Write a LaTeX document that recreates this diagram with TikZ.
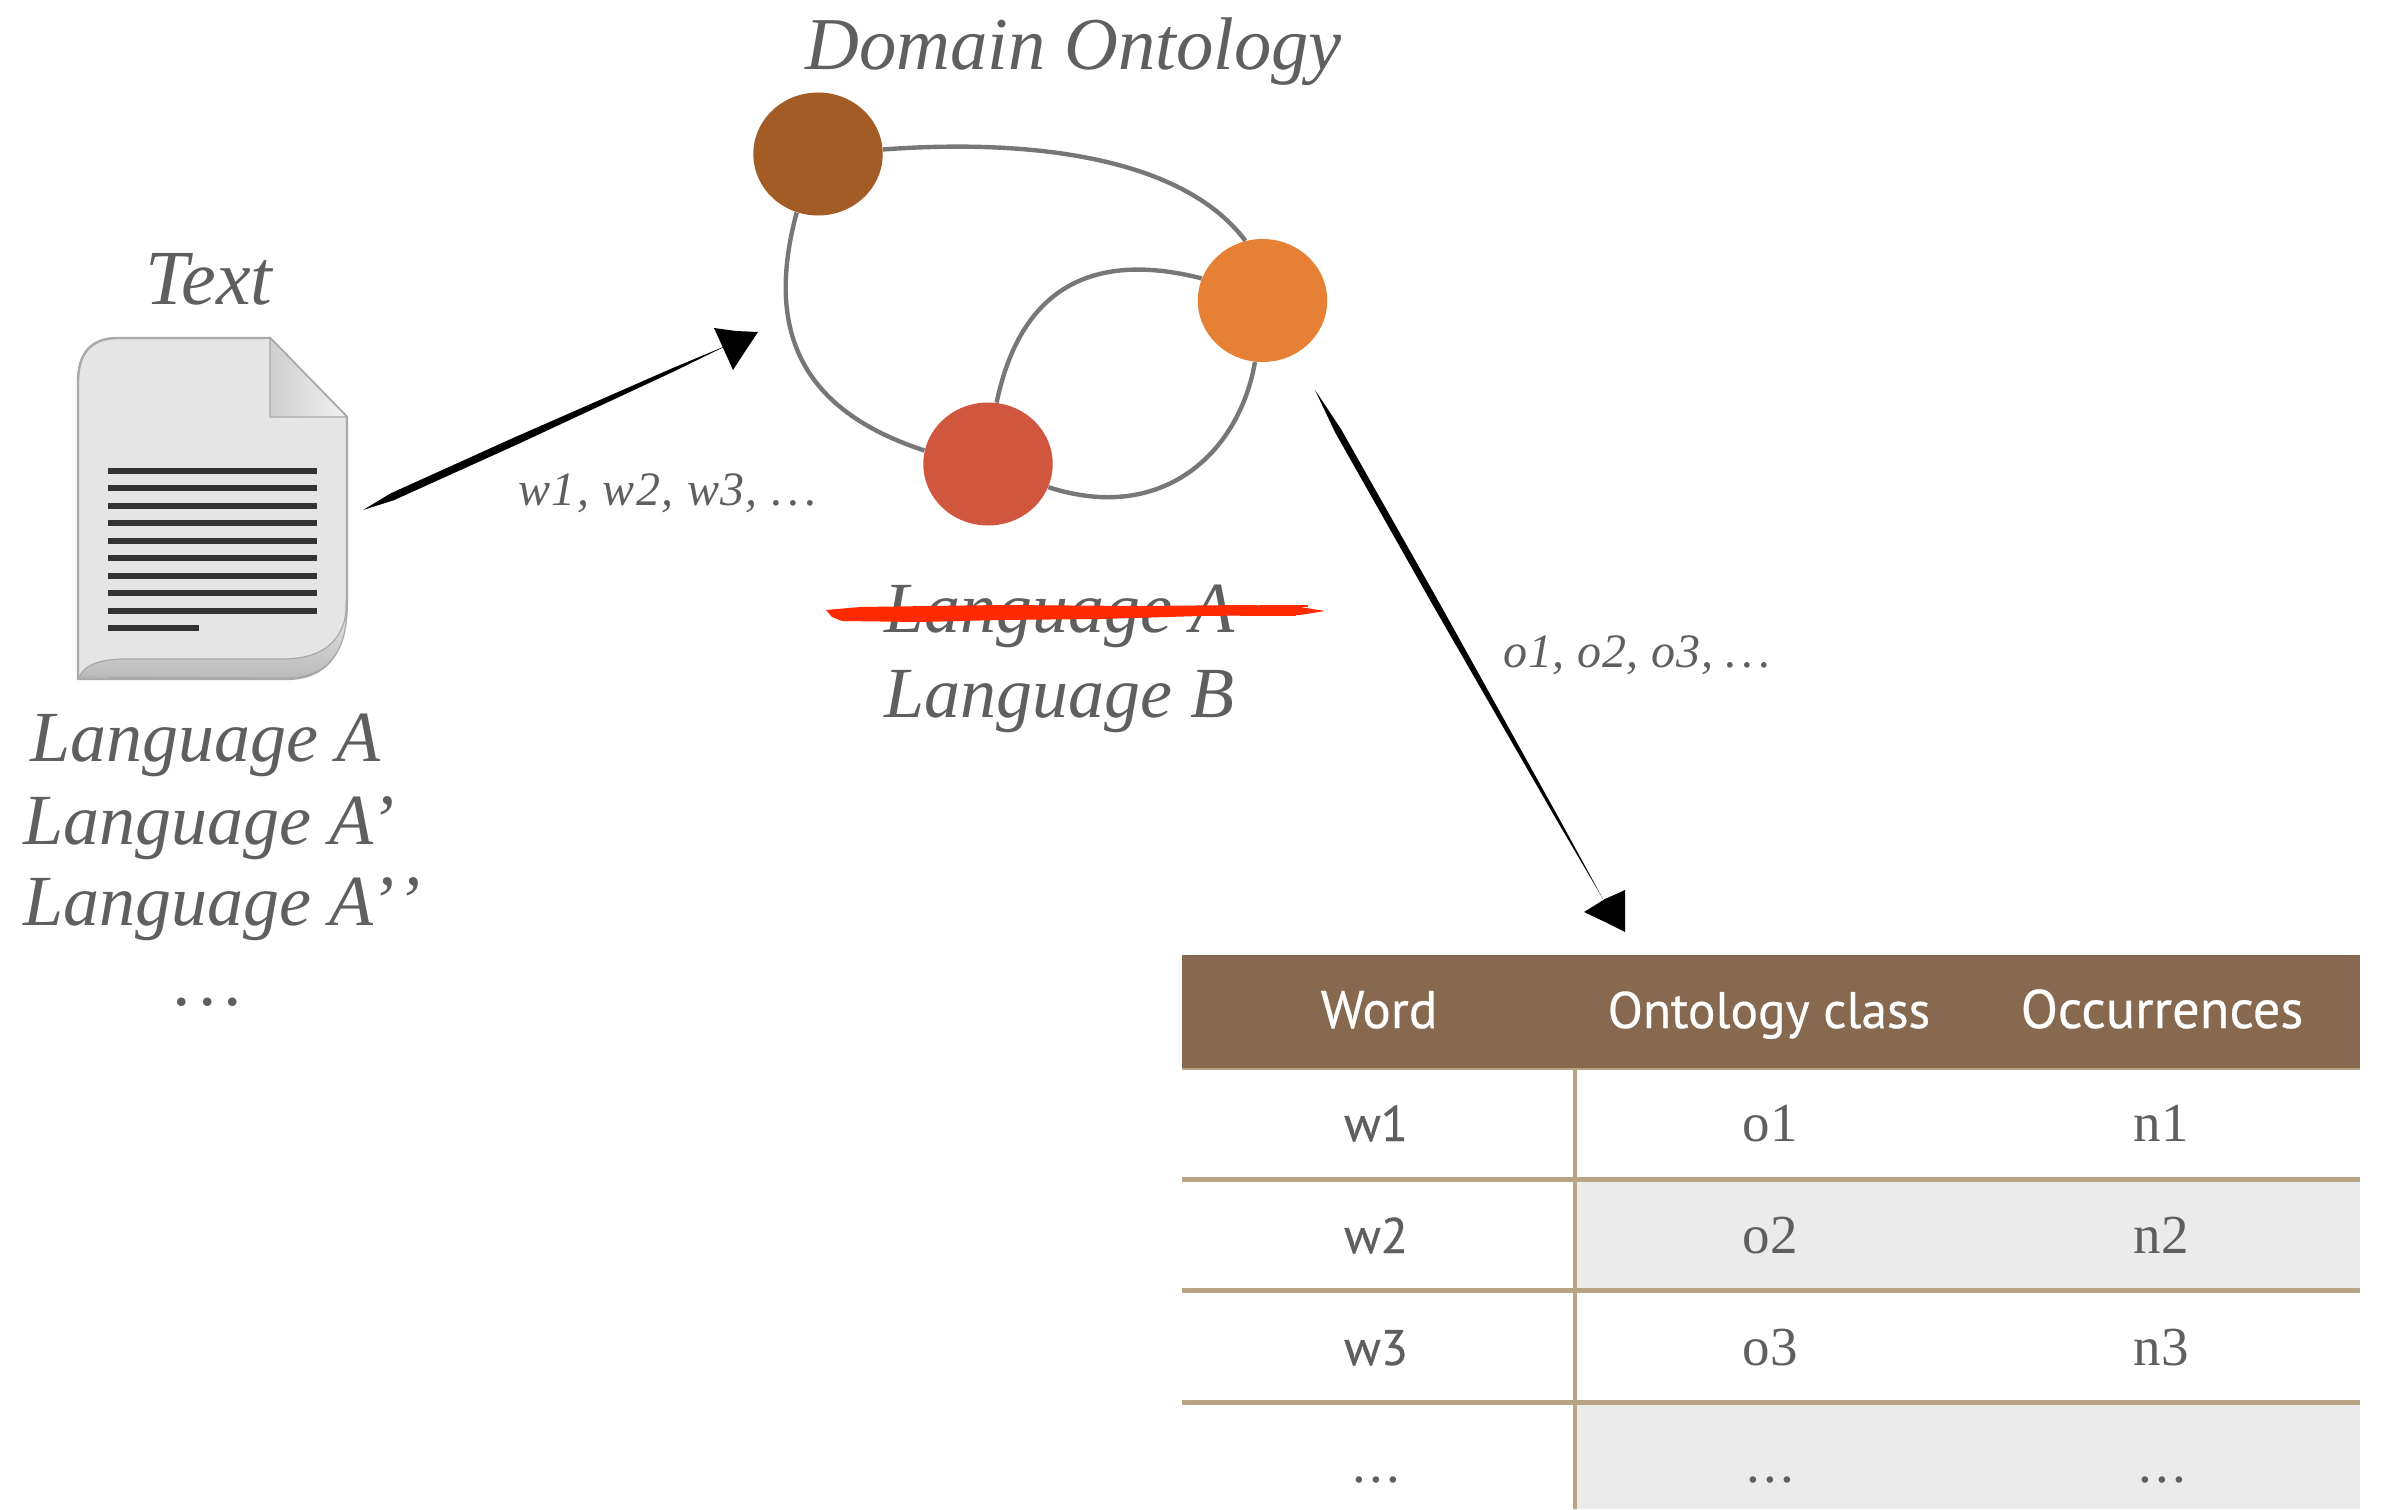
\documentclass[tikz,border=0pt]{standalone}
\usepackage{fontspec}
\setmainfont{Liberation Serif}
\newfontfamily\tabsans{PT Sans}
\newfontfamily\tabsansb[FakeBold=0.5]{PT Sans}
\usetikzlibrary{shapes.geometric,calc}
\definecolor{txtgray}{HTML}{5F5F5F}
\definecolor{edgegray}{HTML}{767878}
\definecolor{hdrbrown}{HTML}{86694F}
\definecolor{rulebrown}{HTML}{B8A384}
\definecolor{rowgray}{HTML}{EBEBEB}
\definecolor{nodeA}{HTML}{A35C26}
\definecolor{nodeB}{HTML}{E58035}
\definecolor{nodeC}{HTML}{D0573E}
\definecolor{strike}{HTML}{FF2A00}
\definecolor{docfill}{HTML}{E5E5E6}
\definecolor{docline}{HTML}{A9A9A9}
\definecolor{docbar}{HTML}{333333}
\newcommand\fs[1]{\fontsize{#1}{#1}\selectfont}
\newcommand\taper[5]{%
  \fill[black] (#1) -- ($(#1)!.08!(#2)!#3pt!90:(#2)$) -- ($(#1)!.42!(#2)!#4pt!90:(#2)$) -- ($(#1)!.85!(#2)!#5pt!90:(#2)$) -- (#2)
    -- ($(#1)!.85!(#2)!#5pt!-90:(#2)$) -- ($(#1)!.42!(#2)!#4pt!-90:(#2)$) -- ($(#1)!.08!(#2)!#3pt!-90:(#2)$) -- cycle;}
\tikzset{
  x=0.5pt,y=-0.5pt,
  biglabel/.style={text=txtgray,inner sep=0pt,anchor=base west,font=\itshape\fs{36}},
  smalllabel/.style={text=txtgray,inner sep=0pt,anchor=base west,font=\itshape\fs{24}},
  ontonode/.style={ellipse,minimum width=64.7pt,minimum height=61.5pt,inner sep=0pt,draw=none},
  ontoedge/.style={draw=edgegray,line width=2.2pt},
  hdrcell/.style={text=white,inner sep=0pt,anchor=base},
  wcell/.style={text=txtgray,inner sep=0pt,anchor=base,font=\tabsansb\fs{25}},
  vcell/.style={text=txtgray,inner sep=0pt,anchor=base,font=\fs{27.5}},
  tabrule/.style={draw=rulebrown,line width=2.5pt},
  tabvrule/.style={draw=rulebrown,line width=2pt},
  docbarline/.style={draw=docbar,line width=3pt},
  sketchhead/.style={fill=black,draw=none},
  strikestreak/.style={draw=strike,line width=.7pt},
}
\begin{document}
\begin{tikzpicture}
\useasboundingbox (0,0) rectangle (2381,1509);
% ---- document icon
\fill[docfill,draw=docline,line width=1.2pt] (78,382) .. controls (78,352) and (92,338) .. (118,338) -- (270,338) -- (347,417) -- (347,595) .. controls (347,650) and (330,679) .. (285,679) -- (78,679) -- cycle;
\shade[top color=docfill,bottom color=black!27,draw=docline,line width=.6pt] (79,677) .. controls (84,668) and (92,660) .. (122,659) -- (285,659) .. controls (325,658) and (342,640) .. (347,610) .. controls (346,650) and (330,678) .. (285,678) -- cycle;
\shade[left color=black!19,right color=black!5,draw=docline,line width=.6pt] (270,338) -- (347,417) -- (270,417) -- cycle;
\foreach \yy in {0,...,8} \draw[docbarline] (108,{471+17.45*\yy}) -- (317,{471+17.45*\yy});
\draw[docbarline] (108,628) -- (199,628);
% ---- labels left
\node[biglabel,font=\itshape\fs{39}] (textlabel) at (145,304) {Text};
\node[biglabel] (langa) at (30,761) {Language A};
\node[biglabel] (langap) at (23,844) {Language A’};
\node[biglabel] (langapp) at (23,925) {Language A’\hspace{.02em}’};
\node[biglabel,anchor=base] (langdots) at (209,1005) {.\hspace{.1em}.\hspace{.1em}.};
% ---- ontology
\node[biglabel,font=\itshape\fs{37.3}] (domain) at (805,70) {Domain Ontology};
\node[ontonode,fill=nodeA] (na) at (818,154) {};
\node[ontonode,fill=nodeB] (nb) at (1262.5,300.5) {};
\node[ontonode,fill=nodeC] (nc) at (988,464) {};
\draw[ontoedge] (na.4) .. controls (1040,138) and (1185,160) .. (nb.106);
\draw[ontoedge] (na.250) .. controls (765,330) and (800,410) .. (nc.168);
\draw[ontoedge] (nc.82) .. controls (1020,290) and (1090,250) .. (nb.160);
\draw[ontoedge] (nb.263) .. controls (1240,450) and (1165,525) .. (nc.-21);
\node[biglabel] (langas) at (884,632) {Language A};
\node[biglabel] (langb) at (884,717) {Language B};
\fill[strike] (826,610) -- (860,607) -- (1000,605) -- (1140,606) -- (1250,605) -- (1300,607) -- (1325,611) -- (1300,615) -- (1200,616) -- (1100,619) -- (1000,620) -- (920,622) -- (842,621) -- (832,617) -- cycle;
\draw[strikestreak] (1260,606) -- (1308,606);
\draw[strikestreak] (1240,615) -- (1296,615);
% ---- sketched arrows
\coordinate (a1s) at (363,510);
\coordinate (a1e) at (728,345);
\coordinate (a1p) at (714,328);
\coordinate (a1q) at (758,332);
\coordinate (a1r) at (733,370);
\taper{a1s}{a1e}{1.9}{1.9}{.9}
\fill[sketchhead] (a1p) -- (736,331) -- (a1q) -- (746,350) -- (a1r) -- (724,350) -- cycle;
\coordinate (a2s) at (1315,390);
\coordinate (a2e) at (1603,899);
\coordinate (a2p) at (1625,890);
\coordinate (a2q) at (1584,912);
\coordinate (a2r) at (1625,932);
\taper{a2s}{a2e}{1.7}{1.7}{.7}
\fill[sketchhead] (a2p) -- (1605,899) -- (a2q) -- (1603,921) -- (a2r) -- (1625,910) -- cycle;
\node[smalllabel,font=\itshape\fs{24}\addfontfeature{LetterSpace=3}] (wlabel) at (518,505) {w1, w2, w3, .\hspace{.1em}.\hspace{.1em}.};
\node[smalllabel,font=\itshape\fs{24}\addfontfeature{LetterSpace=1.5}] (olabel) at (1503,667) {o1, o2, o3, .\hspace{.1em}.\hspace{.1em}.};
% ---- table
\fill[rowgray] (1575,1179) rectangle (2360,1290.5);
\fill[rowgray] (1575,1402) rectangle (2360,1509);
\fill[hdrbrown] (1182,955) rectangle (2360,1068);
\draw[tabrule,line width=1pt] (1182,1068.5) -- (2360,1068.5);
\draw[tabvrule] (1575,1068) -- (1575,1509);
\draw[tabrule] (1182,1179) -- (2360,1179);
\draw[tabrule] (1182,1290.5) -- (2360,1290.5);
\draw[tabrule] (1182,1402) -- (2360,1402);
\node[hdrcell,font=\tabsansb\fs{26.5}] (h1) at (1379,1028) {Word};
\node[hdrcell,font=\tabsansb\fs{25.7}] (h2) at (1769,1028) {Ontology class};
\node[hdrcell,font=\tabsansb\fs{27.2}] (h3) at (2162,1028) {Occurrences};
\node[wcell] (w1) at (1376,1141) {w1};
\node[vcell] (o1) at (1770,1141) {o1};
\node[vcell] (n1) at (2161,1141) {n1};
\node[wcell] (w2) at (1376,1253) {w2};
\node[vcell] (o2) at (1770,1253) {o2};
\node[vcell] (n2) at (2161,1253) {n2};
\node[wcell] (w3) at (1376,1365) {w3};
\node[vcell] (o3) at (1770,1365) {o3};
\node[vcell] (n3) at (2161,1365) {n3};
\node[vcell] (w4) at (1376,1482) {.\hspace{.06em}.\hspace{.06em}.};
\node[vcell] (o4) at (1770,1482) {.\hspace{.06em}.\hspace{.06em}.};
\node[vcell] (n4) at (2162,1482) {.\hspace{.06em}.\hspace{.06em}.};
\end{tikzpicture}
\end{document}
